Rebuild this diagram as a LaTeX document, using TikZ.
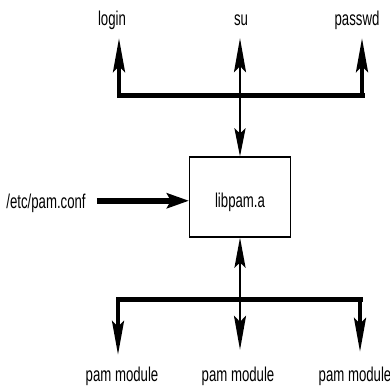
\documentclass[tikz,border=0pt]{standalone}
\usepackage{fontspec}
\setmainfont[FakeStretch=0.66]{Liberation Sans}
\usetikzlibrary{arrows.meta, positioning}

\begin{document}
\begin{tikzpicture}[x=1pt,y=-1pt,>={Stealth[length=34pt,width=12pt,inset=6pt]},font=\fontsize{20}{24}\selectfont]
  \tikzstyle{lbl}=[inner sep=0pt,anchor=base,text height=14.5pt,text depth=0pt]
  \tikzstyle{bus}=[line width=5pt,line cap=rect]
  \tikzstyle{branch}=[->,line width=4pt]
  \tikzstyle{stem}=[->,line width=2.5pt]
  \useasboundingbox (0,0) rectangle (390,388);

  % programs on top
  \node[lbl] (login) at (112,25) {login};
  \node[lbl] (su) at (241,25) {su};
  \node[lbl] (passwd) at (357,25) {passwd};

  % the library
  \node[draw,line width=1.2pt,minimum width=101pt,minimum height=80pt,text height=20pt,text depth=0pt] (lib) at (240,197) {libpam.a};
  \node[lbl] (conf) at (46,208) {/etc/pam.conf};

  % modules below
  \node[lbl] (mod1) at (122,381) {pam module};
  \node[lbl] (mod2) at (238,381) {pam module};
  \node[lbl] (mod3) at (355,381) {pam module};

  \coordinate (tl) at (119,95);
  \coordinate (tc) at (240,95);
  \coordinate (tr) at (362,95);
  \coordinate (bl) at (118,299);
  \coordinate (bc) at (240,299);
  \coordinate (br) at (360,299);

  % upper bus
  \draw[bus] (tl) -- (tr);
  \draw[branch,shorten >=13pt] (tl) -- (tl |- login.south);
  \draw[branch,shorten >=13pt] (tr) -- (tr |- passwd.south);
  \draw[stem,shorten >=13pt] (tc) -- (tc |- su.south);
  \draw[stem,>={Stealth[length=28pt,width=11pt,inset=5pt]}] (tc) -- (lib.north);

  % config file
  \draw[line width=5.5pt,-{Stealth[length=22pt,width=15pt,inset=4pt]},shorten <=11pt] (conf.east) -- (conf.east -| lib.west);

  % lower bus
  \draw[bus] (bl) -- (br);
  \draw[stem,<-,>={Stealth[length=30pt,width=11pt,inset=5pt]}] (lib.south) -- (bc);
  \draw[stem,shorten >=16.5pt] (bc) -- (bc |- mod2.north);
  \draw[branch,shorten >=11.5pt] (bl) -- (bl |- mod1.north);
  \draw[branch,shorten >=14.5pt] (br) -- (br |- mod3.north);
\end{tikzpicture}
\end{document}
